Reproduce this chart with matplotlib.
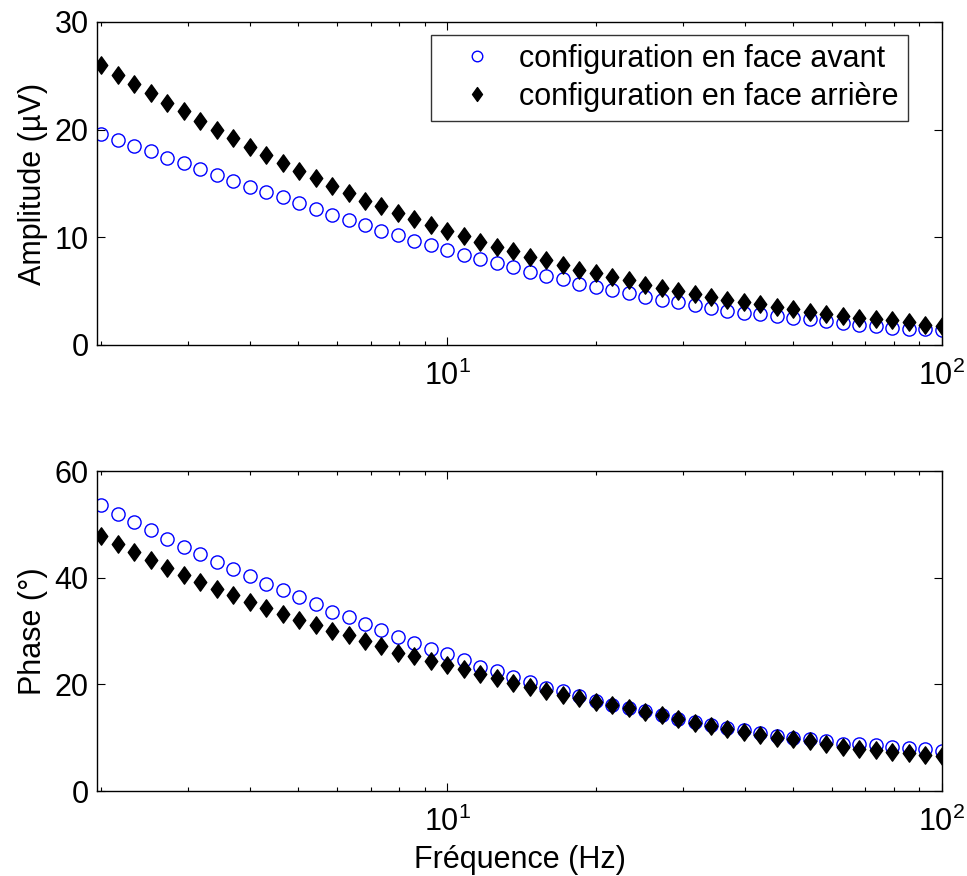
import matplotlib
matplotlib.use("Agg")
import matplotlib.pyplot as plt
from matplotlib.path import Path

plt.rcParams["font.family"] = ["Liberation Sans", "DejaVu Sans"]
plt.rcParams["mathtext.fontset"] = "custom"
plt.rcParams["mathtext.rm"] = "Liberation Sans"
plt.rcParams["mathtext.it"] = "Liberation Sans:italic"
plt.rcParams["mathtext.bf"] = "Liberation Sans:bold"

freq = [2.000, 2.159, 2.331, 2.517, 2.718, 2.935, 3.169, 3.421, 3.694, 3.988,
        4.306, 4.649, 5.020, 5.420, 5.852, 6.318, 6.822, 7.365, 7.952, 8.586,
        9.270, 10.01, 10.81, 11.67, 12.60, 13.60, 14.69, 15.86, 17.12, 18.49,
        19.96, 21.55, 23.27, 25.12, 27.13, 29.29, 31.62, 34.14, 36.86, 39.80,
        42.97, 46.40, 50.10, 54.09, 58.40, 63.05, 68.08, 73.50, 79.36, 85.69,
        92.52, 100.0]

amp_avant = [19.6, 19.0, 18.5, 18.0, 17.4, 16.9, 16.3, 15.8, 15.2, 14.7,
             14.2, 13.7, 13.2, 12.6, 12.1, 11.6, 11.1, 10.6, 10.2, 9.7,
             9.3, 8.8, 8.4, 8.0, 7.6, 7.2, 6.8, 6.4, 6.1, 5.7,
             5.4, 5.1, 4.8, 4.5, 4.2, 4.0, 3.7, 3.4, 3.2, 3.0,
             2.9, 2.7, 2.5, 2.4, 2.2, 2.0, 1.9, 1.8, 1.6, 1.5,
             1.5, 1.4]
amp_arriere = [26.0, 25.1, 24.2, 23.4, 22.5, 21.7, 20.8, 20.0, 19.2, 18.4,
               17.6, 16.9, 16.2, 15.5, 14.8, 14.1, 13.4, 12.9, 12.3, 11.7,
               11.1, 10.6, 10.1, 9.6, 9.1, 8.7, 8.2, 7.9, 7.4, 7.0,
               6.7, 6.3, 6.0, 5.6, 5.3, 5.0, 4.7, 4.5, 4.2, 4.0,
               3.8, 3.5, 3.3, 3.1, 2.9, 2.7, 2.5, 2.4, 2.3, 2.1,
               1.9, 1.8]

phase_avant = [53.6, 51.9, 50.4, 48.9, 47.3, 45.8, 44.4, 43.0, 41.7, 40.3,
               38.9, 37.6, 36.4, 35.0, 33.6, 32.6, 31.4, 30.1, 28.9, 27.7,
               26.7, 25.6, 24.6, 23.3, 22.5, 21.4, 20.4, 19.4, 18.8, 17.8,
               16.9, 16.1, 15.5, 15.0, 14.2, 13.5, 12.9, 12.4, 11.8, 11.4,
               10.9, 10.3, 10.0, 9.7, 9.4, 8.9, 8.8, 8.6, 8.3, 8.1,
               7.8, 7.5]
phase_arriere = [47.8, 46.3, 44.9, 43.4, 41.9, 40.5, 39.2, 37.9, 36.7, 35.5,
                 34.4, 33.2, 32.0, 31.1, 30.0, 29.3, 28.1, 27.1, 25.9, 25.3,
                 24.4, 23.6, 22.8, 22.0, 21.1, 20.3, 19.5, 18.8, 18.0, 17.4,
                 16.7, 16.1, 15.5, 14.9, 14.2, 13.5, 12.8, 12.2, 11.6, 11.0,
                 10.5, 10.0, 9.7, 9.3, 8.8, 8.2, 7.9, 7.6, 7.4, 7.2,
                 6.8, 6.6]

labels = ["configuration en face avant", "configuration en face arrière"]

# MATLAB-like diamond, a bit wider than matplotlib's thin diamond
diamond = Path([(0, 1), (0.72, 0), (0, -1), (-0.72, 0), (0, 1)],
               [Path.MOVETO, Path.LINETO, Path.LINETO, Path.LINETO, Path.CLOSEPOLY])

fs = 22

fig = plt.figure(figsize=(9.67, 8.76), dpi=100)
ax1 = fig.add_axes([0.1003, 0.6062, 0.8738, 0.3687])
ax2 = fig.add_axes([0.1003, 0.0970, 0.8738, 0.3653])

for ax, y_av, y_ar in [(ax1, amp_avant, amp_arriere), (ax2, phase_avant, phase_arriere)]:
    ax.plot(freq, y_av, linestyle="none", marker="o", markersize=9.5,
            markerfacecolor="none", markeredgecolor="#0000ff", markeredgewidth=1.0,
            label=labels[0])
    ax.plot(freq, y_ar, linestyle="none", marker=diamond, markersize=12.5,
            color="black", label=labels[1])
    ax.set_xscale("log")
    ax.set_xlim(1.96, 100)
    ax.tick_params(which="both", direction="in", top=True, right=True,
                   labelsize=fs, width=0.8)
    ax.tick_params(which="major", length=6, pad=6)
    ax.tick_params(which="minor", length=3)
    ax.tick_params(axis="x", which="major", pad=11)
    for s in ax.spines.values():
        s.set_linewidth(1.0)

ax1.set_ylim(0, 30)
ax1.set_yticks([0, 10, 20, 30])
ax1.set_ylabel("Amplitude (µV)", fontsize=fs, labelpad=5)
leg = ax1.legend(loc="upper right", fontsize=fs, frameon=True, fancybox=False,
                 edgecolor="black", handletextpad=0.2, borderpad=0.3,
                 borderaxespad=0, labelspacing=0.25, handlelength=2.4,
                 markerscale=0.8, bbox_to_anchor=(0.960, 0.960))
leg.get_frame().set_linewidth(1.0)

ax2.set_ylim(0, 60)
ax2.set_yticks([0, 20, 40, 60])
ax2.set_ylabel("Phase (°)", fontsize=fs, labelpad=5)
ax2.set_xlabel("Fréquence (Hz)", fontsize=fs, labelpad=5)

fig.savefig("out.png", dpi=100)
